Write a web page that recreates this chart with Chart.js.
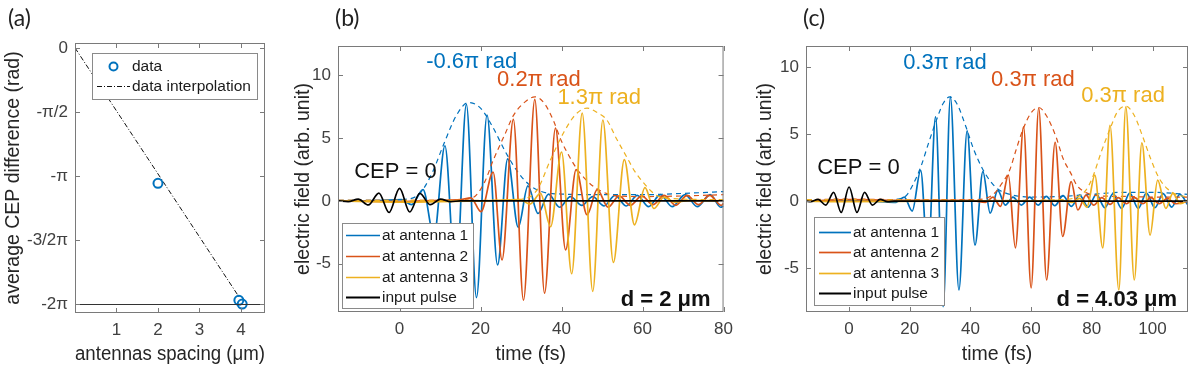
<!DOCTYPE html>
<html>
<head>
<meta charset="utf-8">
<script src="https://cdn.jsdelivr.net/npm/chart.js@4.4.1/dist/chart.umd.min.js"></script>
<style>
body { margin: 0; background: #fff; width: 1196px; height: 375px; position: relative; overflow: hidden; }
canvas { position: absolute; top: 0; }
.tag { position: absolute; top: 3px; font: 23px Lato, "Open Sans", sans-serif; color: #222; }
</style>
</head>
<body>
<canvas id="ca" width="290" height="375" style="left:0"></canvas>
<canvas id="cb" width="450" height="375" style="left:290px"></canvas>
<canvas id="cc" width="444" height="375" style="left:752px"></canvas>
<div class="tag" style="left:8px">(a)</div>
<div class="tag" style="left:335px">(b)</div>
<div class="tag" style="left:803px">(c)</div>
<script>
// (a) average CEP difference vs antenna spacing
const spacing = [2, 3.95, 4.03];
const cepDiff = [-3.32, -6.19, -6.28];
const fitSpacing = [0, 3.95];
const fitCep = [0, -6.1];
const aXTicks = [1, 2, 3, 4];
const aYTicks = [0, -Math.PI / 2, -Math.PI, -3 * Math.PI / 2, -2 * Math.PI];
const aYLabels = ['0', '-π/2', '-π', '-3/2π', '-2π'];

// (b) d = 2 um : fields (fs, arb. unit)
const bT0 = [-15, -12.7, -10.2, -7.7, -5.1, -2.6, 0, 2.5, 5.0, 7.6, 10.1, 12.6, 15, 80];
const bV0 = [0, -0.05, 0.15, -0.32, 0.63, -0.92, 1.0, -0.88, 0.6, -0.3, 0.15, -0.05, 0, 0];
const bT1 = [-15, -6, 0.5, 3.0, 5.8, 8.5, 11.2, 13.9, 16.5, 19.0, 21.6, 24.2, 26.7, 29.3, 31.7, 34.2, 36.8, 39.5, 42.2, 45.0, 47.7, 50.5, 53.2, 56.0, 58.7, 61.5, 64.4, 67.3, 70.5, 73.5, 76.7, 79.3, 80];
const bV1 = [0, 0.02, 0.1, -0.3, 0.9, -2.8, 4.4, -6.6, 7.7, -7.7, 6.85, -5.1, 3.35, -2.1, 1.2, -1.0, 0.55, -0.5, 0.35, -0.35, 0.35, -0.4, 0.45, -0.4, 0.45, -0.45, 0.5, -0.45, 0.5, -0.45, 0.5, -0.5, -0.4];
const bT2 = [-15, 0, 10, 15, 17.6, 20.1, 23.1, 25.3, 28.1, 30.6, 33.4, 35.8, 38.5, 41.0, 43.6, 46.3, 48.8, 51.5, 54.2, 57.0, 59.8, 62.6, 65.3, 68.2, 71.0, 73.8, 76.6, 79.4, 80];
const bV2 = [0, -0.05, 0.05, 0.1, 0.25, -0.85, 2.3, -4.7, 6.5, -7.9, 8.1, -7.35, 5.8, -3.9, 2.5, -1.1, 0.9, -0.5, 0.4, -0.35, 0.4, -0.3, 0.45, -0.35, 0.45, -0.3, 0.45, -0.35, -0.2];
const bT3 = [-15, 0, 10, 20, 29.7, 32.2, 34.8, 37.3, 40.0, 42.5, 45.1, 47.7, 50.2, 52.8, 55.5, 58.0, 60.6, 62.8, 65.3, 68.0, 72, 80];
const bV3 = [0, -0.1, -0.05, 0, 0.1, -0.25, 0.6, -2.05, 3.9, -5.8, 7.0, -7.2, 6.45, -4.9, 3.3, -1.9, 1.06, -0.6, 0.3, -0.1, 0.05, 0];
// (b) envelopes
const bTe1 = [-15, -5, 2, 5, 8, 11, 14, 17, 20, 23, 26, 29, 32, 35, 40, 50, 60, 70, 80];
const bVe1 = [0.05, 0.05, 0.15, 0.6, 2.2, 4.6, 6.8, 7.85, 7.4, 5.9, 4.0, 2.4, 1.3, 0.75, 0.55, 0.5, 0.5, 0.6, 0.75];
const bTe2 = [-15, 10, 15, 18.3, 21, 23.2, 26, 28.1, 31, 33.4, 35.7, 38, 39.8, 42, 43.9, 46, 47.9, 51, 54, 60, 70, 80];
const bVe2 = [0.05, 0.05, 0.1, 0.3, 1.5, 3.3, 5.3, 6.8, 7.9, 8.3, 7.8, 6.4, 4.9, 3.5, 2.5, 1.7, 1.15, 0.6, 0.4, 0.35, 0.4, 0.5];
const bTe3 = [-15, 25, 31, 34, 37.3, 40.6, 43.5, 46.3, 49, 51.2, 53.5, 56.1, 58, 60.1, 63.4, 67, 80];
const bVe3 = [0.05, 0.05, 0.2, 0.9, 3.3, 5.5, 6.9, 7.4, 7.0, 6.45, 5.0, 3.5, 2.4, 1.5, 0.45, 0.2, 0.1];
const bXTicks = [0, 20, 40, 60, 80];
const bYTicks = [-5, 0, 5, 10];

// (c) d = 4.03 um
const cT0 = [-14, -12.7, -10.2, -7.7, -5.1, -2.6, 0, 2.6, 5.1, 7.7, 10.2, 12.7, 15, 111.7];
const cV0 = [0, -0.05, 0.12, -0.3, 0.65, -0.85, 1.05, -0.85, 0.65, -0.3, 0.12, -0.05, 0, 0];
const cT1 = [-14, 0, 10, 15.5, 18.2, 20.8, 23.6, 26.0, 28.5, 31.0, 33.4, 36.2, 38.9, 41.5, 44.1, 46.5, 49.0, 51.5, 54.0, 56.8, 59.5, 62.3, 65.0, 67.8, 70.5, 73.3, 76.0, 78.8, 81.5, 84.3, 87.0, 89.8, 92.5, 95.3, 98.0, 100.8, 103.5, 106.3, 109.0, 111.7];
const cV1 = [0, 0.05, -0.05, -0.1, 0.3, -0.75, 2.3, -4.5, 6.3, -7.9, 7.8, -6.65, 5.25, -3.3, 2.2, -0.9, 0.8, -0.3, 0.3, -0.3, 0.3, -0.3, 0.35, -0.35, 0.4, -0.4, 0.45, -0.45, 0.5, -0.5, 0.55, -0.55, 0.6, -0.55, 0.6, -0.5, 0.55, -0.45, 0.5, -0.3];
const cT2 = [-14, 0, 20, 40, 45.0, 47.4, 49.9, 52.5, 54.8, 57.5, 60.0, 62.5, 65.1, 67.9, 70.4, 73.2, 75.4, 78.1, 80.6, 83.3, 86.0, 88.7, 91.4, 94.1, 96.8, 99.5, 102.2, 104.9, 107.6, 111.7];
const cV2 = [0, 0.1, 0.05, 0.05, -0.1, 0.3, -0.4, 1.94, -3.5, 5.55, -6.5, 6.96, -5.9, 4.4, -2.65, 1.45, -0.67, 0.45, -0.3, 0.25, -0.25, 0.25, -0.2, 0.25, -0.2, 0.25, -0.2, 0.2, -0.2, 0];
const cT3 = [-14, 0, 30, 60, 70, 73.5, 76.0, 78.4, 81.0, 83.6, 86.0, 88.9, 91.2, 94.0, 96.5, 99.2, 101.7, 104.4, 106.7, 109.2, 111.7];
const cV3 = [0, -0.05, 0, 0, 0.05, -0.1, 0.2, -0.45, 1.94, -3.5, 5.67, -6.65, 7.04, -5.9, 4.35, -2.55, 1.57, -0.55, 0.57, -0.2, 0.1];
// (c) envelopes
const cTe1 = [-14, 10, 16, 18.8, 21, 23.7, 26, 28.7, 31, 33.2, 35.5, 38.6, 41, 44, 46.5, 49, 53, 60, 70, 80, 90, 100, 111.7];
const cVe1 = [0.05, 0.05, 0.15, 0.4, 1.2, 2.6, 4.2, 6.0, 7.3, 7.8, 7.3, 5.5, 3.9, 2.4, 1.5, 0.9, 0.5, 0.3, 0.35, 0.5, 0.65, 0.65, 0.5];
const cTe2 = [-14, 0, 20, 40, 45, 48, 50, 52.9, 55, 57.2, 60, 62.5, 65, 68.2, 70.5, 73.1, 75, 77.5, 82, 90, 100, 111.7];
const cVe2 = [0.1, 0.15, 0.1, 0.1, 0.2, 0.6, 1.2, 2.3, 3.8, 5.3, 6.6, 7.0, 6.4, 4.8, 3.2, 2.07, 1.2, 0.7, 0.4, 0.35, 0.3, 0.3];
const cTe3 = [-14, 0, 50, 70, 75, 78, 80.3, 83, 86, 88.5, 91.2, 94, 96.8, 99.5, 102.2, 105, 107.7, 111.7];
const cVe3 = [0.1, 0.1, 0.05, 0.1, 0.3, 0.8, 1.8, 3.6, 5.4, 6.7, 7.1, 6.4, 4.8, 3.1, 1.7, 0.9, 0.5, 0.3];
const cXTicks = [0, 20, 40, 60, 80, 100];
const cYTicks = [-5, 0, 5, 10];

const BLUE = '#0072BD', RED = '#D95319', YELL = '#EDB120', BLK = '#000000';
const FONT = '"Liberation Sans", Arial, sans-serif';
Chart.defaults.font.family = FONT;
Chart.defaults.animation = false;

const pts = (t, v) => t.map((tt, i) => ({ x: tt, y: v[i] }));

function wave(t, v, color, dashed, order) {
    return {
        data: pts(t, v),
        borderColor: color,
        borderWidth: dashed ? 1.2 : 1.7,
        borderDash: dashed ? [5, 4] : [],
        pointRadius: 0,
        fill: false,
        cubicInterpolationMode: 'monotone',
        order: order
    };
}

// box, inward ticks, reference line
const framePlugin = {
    id: 'frame',
    afterDatasetsDraw(chart, args, opts) {
        const { ctx, chartArea: a, scales: { x, y } } = chart;
        ctx.save();
        if (opts.refY !== undefined) {
            const py = Math.round(y.getPixelForValue(opts.refY)) + 0.5;
            ctx.strokeStyle = '#333'; ctx.lineWidth = 1;
            ctx.beginPath(); ctx.moveTo(a.left, py); ctx.lineTo(a.right, py); ctx.stroke();
        }
        ctx.strokeStyle = '#7a7a7a'; ctx.lineWidth = 1;
        ctx.strokeRect(a.left + 0.5, a.top + 0.5, a.width - 1, a.height - 1);
        ctx.beginPath();
        x.ticks.forEach(t => {
            const px = Math.round(x.getPixelForValue(t.value)) + 0.5;
            ctx.moveTo(px, a.bottom); ctx.lineTo(px, a.bottom - 5);
            ctx.moveTo(px, a.top); ctx.lineTo(px, a.top + 5);
        });
        y.ticks.forEach(t => {
            const py = Math.round(y.getPixelForValue(t.value)) + 0.5;
            ctx.moveTo(a.left, py); ctx.lineTo(a.left + 5, py);
            ctx.moveTo(a.right, py); ctx.lineTo(a.right - 5, py);
        });
        ctx.stroke();
        ctx.restore();
    },
    afterDraw(chart, args, opts) {
        const { ctx, chartArea: a, scales: { x, y } } = chart;
        ctx.save();
        (opts.notes || []).forEach(n => {
            ctx.font = (n.bold ? 'bold ' : '') + n.size + 'px ' + FONT;
            ctx.fillStyle = n.color;
            ctx.textAlign = n.align || 'center';
            ctx.textBaseline = 'middle';
            ctx.fillText(n.text, x.getPixelForValue(n.x), y.getPixelForValue(n.y));
        });
        const lg = opts.legend;
        if (lg) {
            const x0 = a.left + lg.dx;
            const y0 = lg.fromBottom ? a.bottom - lg.dy - lg.h : a.top + lg.dy;
            ctx.fillStyle = '#fff';
            ctx.fillRect(x0, y0, lg.w, lg.h);
            ctx.strokeStyle = '#8a8a8a'; ctx.lineWidth = 1;
            ctx.strokeRect(x0 + 0.5, y0 + 0.5, lg.w, lg.h);
            ctx.font = '15.5px ' + FONT;
            ctx.textAlign = 'left'; ctx.textBaseline = 'middle';
            lg.items.forEach((it, i) => {
                const cy = Math.round(y0 + lg.pad + lg.row * (i + 0.5)) + 0.5;
                ctx.strokeStyle = it.color;
                if (it.kind === 'circle') {
                    ctx.lineWidth = 2;
                    ctx.beginPath(); ctx.arc(x0 + (lg.x1 + lg.x2) / 2, cy, 4, 0, Math.PI * 2); ctx.stroke();
                } else {
                    ctx.lineWidth = it.width || 1.7;
                    ctx.setLineDash(it.dash || []);
                    ctx.beginPath(); ctx.moveTo(x0 + lg.x1, cy); ctx.lineTo(x0 + lg.x2, cy); ctx.stroke();
                    ctx.setLineDash([]);
                }
                ctx.fillStyle = '#1a1a1a';
                ctx.fillText(it.label, x0 + lg.tx, cy);
            });
        }
        ctx.restore();
    }
};

function axes(xMin, xMax, yMin, yMax, xTicks, yTicks, yLabel, xTitle, yTitle, yWidth, xHeight) {
    return {
        x: {
            type: 'linear', min: xMin, max: xMax,
            afterBuildTicks: s => { s.ticks = xTicks.map(v => ({ value: v })); },
            afterFit: s => { s.height = xHeight; },
            grid: { display: false, drawTicks: false },
            border: { display: false },
            ticks: { color: '#404040', font: { size: 17 }, padding: 7, maxRotation: 0 },
            title: { display: true, text: xTitle, color: '#262626', font: { size: 19.5 }, padding: { top: 0, bottom: 9 } }
        },
        y: {
            type: 'linear', min: yMin, max: yMax,
            afterBuildTicks: s => { s.ticks = yTicks.map(v => ({ value: v })); },
            afterFit: s => { s.width = yWidth; },
            grid: { display: false, drawTicks: false },
            border: { display: false },
            ticks: { color: '#404040', font: { size: 17 }, padding: 7, callback: yLabel },
            title: { display: true, text: yTitle, color: '#262626', font: { size: 19.5 }, padding: { top: 2, bottom: 0 } }
        }
    };
}

const waveLegendItems = [
    { label: 'at antenna 1', color: BLUE },
    { label: 'at antenna 2', color: RED },
    { label: 'at antenna 3', color: YELL },
    { label: 'input pulse', color: BLK, width: 2 }
];

// panel (a)
new Chart(document.getElementById('ca'), {
    type: 'scatter',
    data: {
        datasets: [{
            data: pts(spacing, cepDiff),
            borderColor: BLUE, backgroundColor: 'rgba(0,0,0,0)',
            borderWidth: 2, pointRadius: 4.5, pointStyle: 'circle', order: 0
        }, {
            type: 'line',
            data: pts(fitSpacing, fitCep),
            borderColor: '#111', borderWidth: 1, borderDash: [5, 2, 1, 2],
            pointRadius: 0, showLine: true, order: 1
        }]
    },
    options: {
        responsive: false,
        layout: { padding: { top: 43, right: 25, left: 0, bottom: 0 } },
        plugins: {
            legend: { display: false }, tooltip: { enabled: false },
            frame: {
                refY: -2 * Math.PI,
                legend: {
                    dx: 17, dy: 10, fromBottom: false, w: 165, h: 46, pad: 3, row: 20,
                    x1: 5, x2: 38, tx: 40,
                    items: [
                        { label: 'data', color: BLUE, kind: 'circle' },
                        { label: 'data interpolation', color: '#111', width: 1, dash: [5, 2, 1, 2] }
                    ]
                }
            }
        },
        scales: axes(0, 4.58, -6.5, 0.12, aXTicks, aYTicks,
            v => aYLabels[aYTicks.findIndex(t => Math.abs(t - v) < 1e-6)],
            'antennas spacing (μm)', 'average CEP difference (rad)', 75, 62)
    },
    plugins: [framePlugin]
});

// panel (b)
new Chart(document.getElementById('cb'), {
    type: 'line',
    data: {
        datasets: [
            wave(bT1, bV1, BLUE, false, 6),
            wave(bTe1, bVe1, BLUE, true, 5),
            wave(bT2, bV2, RED, false, 4),
            wave(bTe2, bVe2, RED, true, 3),
            wave(bT3, bV3, YELL, false, 2),
            wave(bTe3, bVe3, YELL, true, 1),
            wave(bT0, bV0, BLK, false, 0)
        ]
    },
    options: {
        responsive: false,
        layout: { padding: { top: 46, right: 14, left: 0, bottom: 0 } },
        plugins: {
            legend: { display: false }, tooltip: { enabled: false },
            frame: {
                notes: [
                    { text: '-0.6π rad', x: 17.8, y: 11.08, color: BLUE, size: 22 },
                    { text: '0.2π rad', x: 34.4, y: 9.64, color: RED, size: 22 },
                    { text: '1.3π rad', x: 49.3, y: 8.2, color: YELL, size: 22 },
                    { text: 'CEP = 0', x: -1.0, y: 2.3, color: '#111', size: 22 },
                    { text: 'd = 2 μm', x: 76.8, y: -7.9, color: '#111', size: 22, bold: true, align: 'right' }
                ],
                legend: {
                    dx: 4, dy: 4, fromBottom: true, w: 131, h: 85, pad: 2, row: 20.7,
                    x1: 4, x2: 38, tx: 40, items: waveLegendItems
                }
            }
        },
        scales: axes(-15.2, 80, -8.85, 12.35, bXTicks, bYTicks, v => String(v),
            'time (fs)', 'electric field (arb. unit)', 48, 63)
    },
    plugins: [framePlugin]
});

// panel (c)
new Chart(document.getElementById('cc'), {
    type: 'line',
    data: {
        datasets: [
            wave(cT1, cV1, BLUE, false, 6),
            wave(cTe1, cVe1, BLUE, true, 5),
            wave(cT2, cV2, RED, false, 4),
            wave(cTe2, cVe2, RED, true, 3),
            wave(cT3, cV3, YELL, false, 2),
            wave(cTe3, cVe3, YELL, true, 1),
            wave(cT0, cV0, BLK, false, 0)
        ]
    },
    options: {
        responsive: false,
        layout: { padding: { top: 46, right: 8, left: 0, bottom: 0 } },
        plugins: {
            legend: { display: false }, tooltip: { enabled: false },
            frame: {
                notes: [
                    { text: '0.3π rad', x: 31.6, y: 10.3, color: BLUE, size: 22 },
                    { text: '0.3π rad', x: 60.6, y: 9.03, color: RED, size: 22 },
                    { text: '0.3π rad', x: 90.3, y: 7.9, color: YELL, size: 22 },
                    { text: 'CEP = 0', x: 3.1, y: 2.46, color: '#111', size: 22 },
                    { text: 'd = 4.03 μm', x: 108.1, y: -7.39, color: '#111', size: 22, bold: true, align: 'right' }
                ],
                legend: {
                    dx: 8, dy: 7, fromBottom: true, w: 130, h: 88, pad: 4.5, row: 20.5,
                    x1: 5, x2: 37, tx: 39, items: waveLegendItems
                }
            }
        },
        scales: axes(-14.2, 111.7, -8.3, 11.6, cXTicks, cYTicks, v => String(v),
            'time (fs)', 'electric field (arb. unit)', 54, 63)
    },
    plugins: [framePlugin]
});
</script>
</body>
</html>
